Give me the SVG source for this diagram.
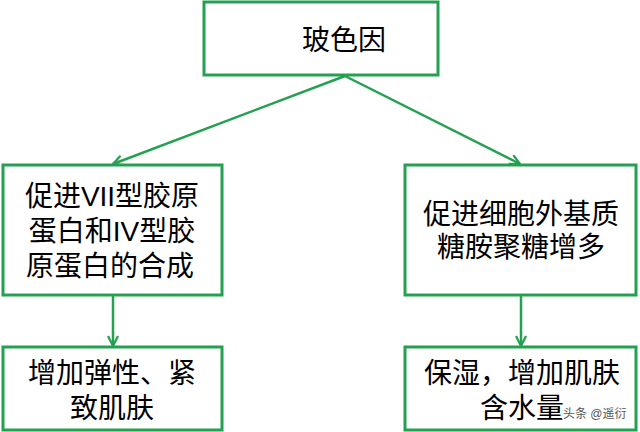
<svg xmlns="http://www.w3.org/2000/svg" width="640" height="432" viewBox="0 0 640 432">
<defs>
<style>
.box{fill:#fff;stroke:#24a150;stroke-width:3}
.t{font-family:"Liberation Sans","Noto Sans CJK SC",sans-serif;font-size:28px;fill:#000;text-anchor:middle;dominant-baseline:central}
.c{stroke:#24a150;stroke-width:2.5;fill:none}
.wm{font-family:"Liberation Sans","Noto Sans CJK SC",sans-serif;font-size:12px;fill:#555;stroke:#fff;stroke-width:3;paint-order:stroke;text-anchor:start;dominant-baseline:central}
</style>
<marker id="arr" viewBox="0 0 12 12" refX="11" refY="6" markerWidth="12" markerHeight="12" markerUnits="userSpaceOnUse" orient="auto">
<path d="M1,1 L11,6 L1,11" fill="none" stroke="#24a150" stroke-width="2.2"/>
</marker>
</defs>
<rect width="640" height="432" fill="#fff"/>
<g id="connectors">
<line class="c" x1="345" y1="76" x2="113" y2="164" marker-end="url(#arr)"/>
<line class="c" x1="345" y1="76" x2="520" y2="164" marker-end="url(#arr)"/>
<line class="c" x1="113" y1="295" x2="113" y2="346" marker-end="url(#arr)"/>
<line class="c" x1="521" y1="295" x2="521" y2="346" marker-end="url(#arr)"/>
</g>
<g id="n-top">
<rect class="box" x="204" y="2" width="234" height="73"/>
<text class="t" x="344" y="40">玻色因</text>
</g>
<g id="n-left">
<rect class="box" x="3" y="165" width="219" height="130"/>
<text class="t"><tspan x="112" y="196">促进VII型胶原</tspan><tspan x="112" y="231">蛋白和IV型胶</tspan><tspan x="110" y="266">原蛋白的合成</tspan></text>
</g>
<g id="n-right">
<rect class="box" x="405" y="165" width="231" height="130"/>
<text class="t"><tspan x="521" y="214">促进细胞外基质</tspan><tspan x="521" y="247">糖胺聚糖增多</tspan></text>
</g>
<g id="n-bl">
<rect class="box" x="3" y="347" width="219" height="83"/>
<text class="t"><tspan x="112" y="373">增加弹性、紧</tspan><tspan x="112" y="408">致肌肤</tspan></text>
</g>
<g id="n-br">
<rect class="box" x="405" y="347" width="231" height="83"/>
<text class="t"><tspan x="522" y="373">保湿，增加肌肤</tspan><tspan x="522" y="408">含水量</tspan></text>
</g>
<text class="wm" x="563" y="414">头条 @遥衍</text>
</svg>
